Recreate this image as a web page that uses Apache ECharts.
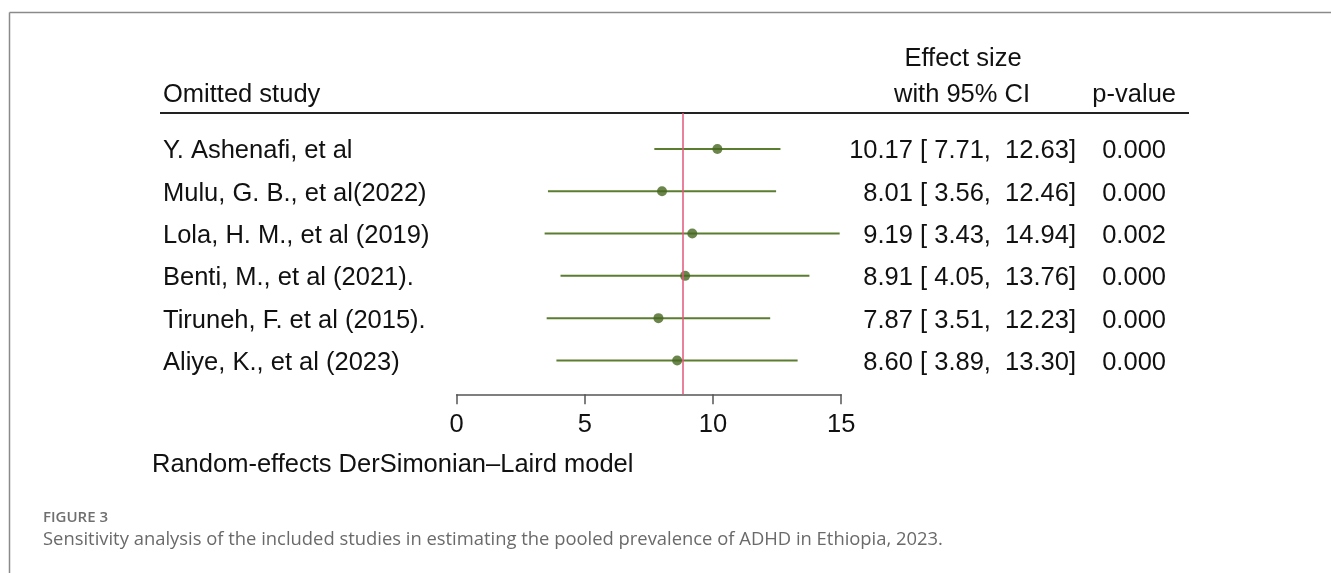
<!DOCTYPE html>
<html>
<head>
<meta charset="utf-8">
<script src="https://cdn.jsdelivr.net/npm/echarts@6/dist/echarts.min.js"></script>
<style>
  html, body { margin: 0; padding: 0; background: #fff; }
  #chart { width: 1331px; height: 573px; }
</style>
</head>
<body>
<div id="chart"></div>
<script>
// Leave-one-out sensitivity analysis (random-effects, DerSimonian–Laird)
const studies = [
  'Y. Ashenafi, et al',
  'Mulu, G. B., et al(2022)',
  'Lola, H. M., et al (2019)',
  'Benti, M., et al (2021).',
  'Tiruneh, F. et al (2015).',
  'Aliye, K., et al (2023)'
];
const effect = [10.17, 8.01, 9.19, 8.91, 7.87, 8.60];
const lower  = [7.71, 3.56, 3.43, 4.05, 3.51, 3.89];
const upper  = [12.63, 12.46, 14.94, 13.76, 12.23, 13.30];
const pValues = ['0.000', '0.000', '0.002', '0.000', '0.000', '0.000'];
const pooled = 8.80;
const xTicks = [0, 5, 10, 15];

const SANS = "'Liberation Sans', Arial, sans-serif";
const CAP = "'Open Sans', 'Noto Sans', sans-serif";
const FS = '25.5px ';

function pad(s, n) { while (s.length < n) s = ' ' + s; return s; }
function ciText(i) {
  return effect[i].toFixed(2) + ' [' + pad(lower[i].toFixed(2), 5) + ',' + pad(upper[i].toFixed(2), 7) + ']';
}

const rows = studies.map((s, i) => [i, lower[i], upper[i], effect[i]]);

const chart = echarts.init(document.getElementById('chart'), null, { renderer: 'canvas' });

chart.setOption({
  animation: false,
  backgroundColor: '#ffffff',
  grid: { left: 456.7, top: 113, width: 384.5, height: 281.3, containLabel: false },
  xAxis: {
    type: 'value',
    min: xTicks[0],
    max: xTicks[xTicks.length - 1],
    interval: 5,
    axisLine: { show: true, onZero: false, lineStyle: { color: '#555', width: 1.5 } },
    axisTick: { show: true, length: 10, lineStyle: { color: '#555', width: 1.5 } },
    axisLabel: { fontFamily: SANS, fontSize: 25.5, color: '#111', margin: 18 },
    splitLine: { show: false }
  },
  yAxis: {
    type: 'value',
    inverse: true,
    min: -0.85,
    max: 5.8,
    show: false,
    splitLine: { show: false }
  },
  graphic: [
    // figure frame
    { type: 'line', shape: { x1: 9.5, y1: 12.5, x2: 1331, y2: 12.5 }, style: { stroke: '#8a8a8a', lineWidth: 1.5 } },
    { type: 'line', shape: { x1: 9.5, y1: 12.5, x2: 9.5, y2: 573 }, style: { stroke: '#8a8a8a', lineWidth: 1.5 } },
    // table header
    { type: 'text', style: { text: 'Omitted study', x: 163, y: 95, font: FS + SANS, fill: '#111', align: 'left', verticalAlign: 'middle' } },
    { type: 'text', style: { text: 'Effect size', x: 963, y: 59, font: FS + SANS, fill: '#111', align: 'center', verticalAlign: 'middle' } },
    { type: 'text', style: { text: 'with 95% CI', x: 962, y: 95, font: FS + SANS, fill: '#111', align: 'center', verticalAlign: 'middle' } },
    { type: 'text', style: { text: 'p-value', x: 1176, y: 95, font: FS + SANS, fill: '#111', align: 'right', verticalAlign: 'middle' } },
    { type: 'line', shape: { x1: 160, y1: 113, x2: 1189, y2: 113 }, style: { stroke: '#222', lineWidth: 2 } },
    // model note
    { type: 'text', style: { text: 'Random-effects DerSimonian–Laird model', x: 152, y: 465, font: FS + SANS, fill: '#111', align: 'left', verticalAlign: 'middle' } },
    // caption
    { type: 'text', style: { text: 'FIGURE 3', x: 43, y: 518, font: '600 15px ' + CAP, fill: '#6f6f6f', align: 'left', verticalAlign: 'middle' } },
    { type: 'text', style: { text: 'Sensitivity analysis of the included studies in estimating the pooled prevalence of ADHD in Ethiopia, 2023.', x: 43, y: 540, font: '18.4px ' + CAP, fill: '#6a6a6a', align: 'left', verticalAlign: 'middle' } }
  ],
  series: [
    {
      // overall pooled estimate reference line
      type: 'scatter',
      data: [],
      z: 1,
      markLine: {
        silent: true,
        symbol: 'none',
        label: { show: false },
        lineStyle: { color: '#e2577c', width: 1.5, type: 'solid' },
        data: [{ xAxis: pooled }]
      }
    },
    {
      // confidence intervals and row text
      type: 'custom',
      clip: false,
      z: 3,
      silent: true,
      data: rows,
      encode: { x: [1, 2], y: 0 },
      renderItem: function (params, api) {
        const i = api.value(0);
        const a = api.coord([api.value(1), i]);
        const b = api.coord([api.value(2), i]);
        const y = a[1];
        const ty = y + 2.5;
        return {
          type: 'group',
          children: [
            { type: 'line', shape: { x1: a[0], y1: y, x2: b[0], y2: y }, style: { stroke: '#5a7d30', lineWidth: 2 } },
            { type: 'text', style: { text: studies[i], x: 163, y: ty, font: FS + SANS, fill: '#111', align: 'left', verticalAlign: 'middle' } },
            { type: 'text', style: { text: ciText(i), x: 1076, y: ty, font: FS + SANS, fill: '#111', align: 'right', verticalAlign: 'middle' } },
            { type: 'text', style: { text: pValues[i], x: 1166, y: ty, font: FS + SANS, fill: '#111', align: 'right', verticalAlign: 'middle' } }
          ]
        };
      }
    },
    {
      // point estimates
      type: 'scatter',
      z: 4,
      silent: true,
      symbol: 'circle',
      symbolSize: 10,
      itemStyle: { color: '#46661f' },
      data: effect.map((v, i) => [v, i])
    }
  ]
});
</script>
</body>
</html>
